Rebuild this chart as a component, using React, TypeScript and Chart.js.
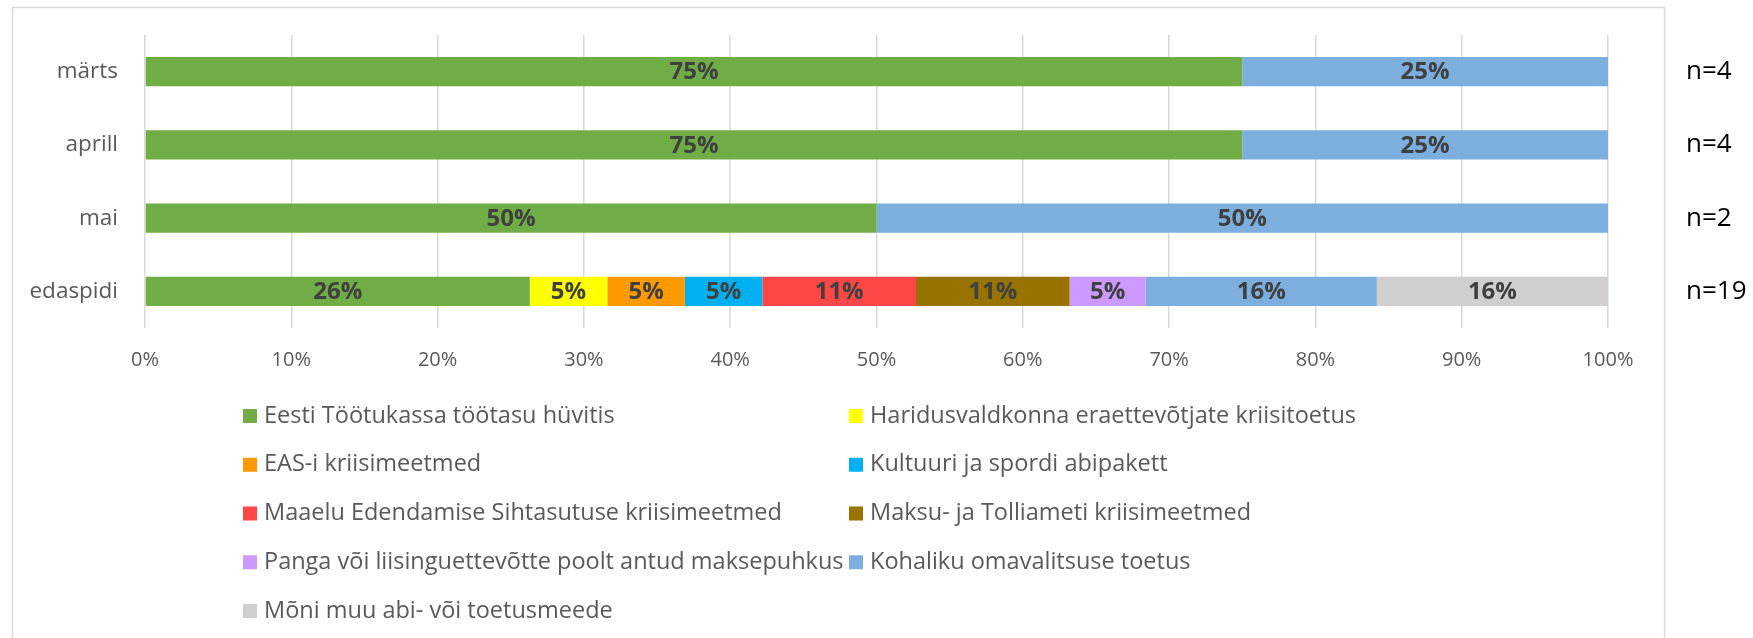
import React, { useEffect, useRef } from "react";
import { Chart, registerables } from "chart.js";

Chart.register(...registerables);

const categories = ["märts", "aprill", "mai", "edaspidi"];
const nLabels = ["n=4", "n=4", "n=2", "n=19"];

const seriesNames = [
  "Eesti Töötukassa töötasu hüvitis",
  "Haridusvaldkonna eraettevõtjate kriisitoetus",
  "EAS-i kriisimeetmed",
  "Kultuuri ja spordi abipakett",
  "Maaelu Edendamise Sihtasutuse kriisimeetmed",
  "Maksu- ja Tolliameti kriisimeetmed",
  "Panga või liisinguettevõtte poolt antud maksepuhkus",
  "Kohaliku omavalitsuse toetus",
  "Mõni muu abi- või toetusmeede",
];

const seriesColors = [
  "#70AD47",
  "#FFFF00",
  "#FF9900",
  "#00B0F0",
  "#FF4747",
  "#997300",
  "#CC99FF",
  "#7CAFDD",
  "#D0CECE",
];

const tootukassa = [75, 75, 50, 26.3];
const haridus = [0, 0, 0, 5.3];
const eas = [0, 0, 0, 5.3];
const kultuur = [0, 0, 0, 5.3];
const maaelu = [0, 0, 0, 10.5];
const maksu = [0, 0, 0, 10.5];
const panga = [0, 0, 0, 5.2];
const kohalik = [25, 25, 50, 15.8];
const muu = [0, 0, 0, 15.8];

const seriesValues = [tootukassa, haridus, eas, kultuur, maaelu, maksu, panga, kohalik, muu];

const FONT = "'Open Sans', 'Noto Sans', sans-serif";

const framePlugin = {
  id: "frame",
  beforeDraw(chart: any) {
    const ctx = chart.ctx;
    ctx.save();
    ctx.strokeStyle = "#D9D9D9";
    ctx.lineWidth = 1.5;
    ctx.strokeRect(12.5, 7.5, 1652, 700);
    ctx.restore();
  },
};

const labelsPlugin = {
  id: "barLabels",
  afterDatasetsDraw(chart: any) {
    const ctx = chart.ctx;
    ctx.save();
    ctx.font = `bold 24px ${FONT}`;
    ctx.fillStyle = "#404040";
    ctx.textAlign = "center";
    ctx.textBaseline = "middle";
    chart.data.datasets.forEach((ds: any, i: number) => {
      const meta = chart.getDatasetMeta(i);
      meta.data.forEach((bar: any, j: number) => {
        const v = ds.data[j];
        if (!v) return;
        const cx = (bar.x + bar.base) / 2;
        ctx.fillText(Math.round(v) + "%", cx, bar.y + 1);
      });
    });
    const yScale = chart.scales.y;
    ctx.font = `26px ${FONT}`;
    ctx.fillStyle = "#000000";
    ctx.textAlign = "left";
    nLabels.forEach((t, j) => {
      ctx.fillText(t, chart.chartArea.right + 78, yScale.getPixelForValue(j));
    });
    ctx.restore();
  },
};

const legendPlugin = {
  id: "gridLegend",
  afterDraw(chart: any) {
    const ctx = chart.ctx;
    ctx.save();
    ctx.font = `23.5px ${FONT}`;
    ctx.textBaseline = "middle";
    ctx.textAlign = "left";
    const colX = [243, 849];
    const top = chart.chartArea.bottom + 88;
    const step = 48.75;
    chart.data.datasets.forEach((ds: any, i: number) => {
      const col = i % 2;
      const row = Math.floor(i / 2);
      const x = colX[col];
      const y = top + row * step;
      ctx.fillStyle = ds.backgroundColor;
      ctx.fillRect(x, y - 7, 14, 14);
      ctx.fillStyle = "#595959";
      ctx.fillText(ds.label, x + 21, y);
    });
    ctx.restore();
  },
};

export default function App() {
  const ref = useRef<HTMLCanvasElement | null>(null);

  useEffect(() => {
    if (!ref.current) return;
    const chart = new Chart(ref.current, {
      type: "bar",
      data: {
        labels: categories,
        datasets: seriesNames.map((name, i) => ({
          label: name,
          data: seriesValues[i],
          backgroundColor: seriesColors[i],
          borderWidth: 0,
          categoryPercentage: 1,
          barPercentage: 0.4,
        })),
      },
      options: {
        indexAxis: "y",
        responsive: false,
        animation: false,
        layout: { padding: { left: 0, top: 35, right: 145, bottom: 260 } },
        plugins: {
          legend: { display: false },
          tooltip: { enabled: false },
        },
        scales: {
          x: {
            stacked: true,
            min: 0,
            max: 100,
            ticks: {
              stepSize: 10,
              callback: (v: any) => v + "%",
              color: "#595959",
              font: { family: FONT, size: 20 },
              padding: 20,
            },
            grid: { color: "#D9D9D9", lineWidth: 1.5, drawTicks: false },
            border: { display: false },
            afterFit: (s: any) => {
              s.height = 50;
            },
          },
          y: {
            stacked: true,
            ticks: {
              color: "#595959",
              font: { family: FONT, size: 22.5 },
              padding: 27,
            },
            grid: { display: false, drawTicks: false },
            border: { display: false },
            afterFit: (s: any) => {
              s.width = 145;
              s.paddingTop = 0;
              s.paddingBottom = 0;
            },
          },
        },
      },
      plugins: [framePlugin, labelsPlugin, legendPlugin],
    } as any);
    return () => chart.destroy();
  }, []);

  return (
    <div style={{ position: "fixed", left: 0, top: 0, width: 1753, height: 638, background: "#fff" }}>
      <canvas ref={ref} width={1753} height={638} />
    </div>
  );
}
